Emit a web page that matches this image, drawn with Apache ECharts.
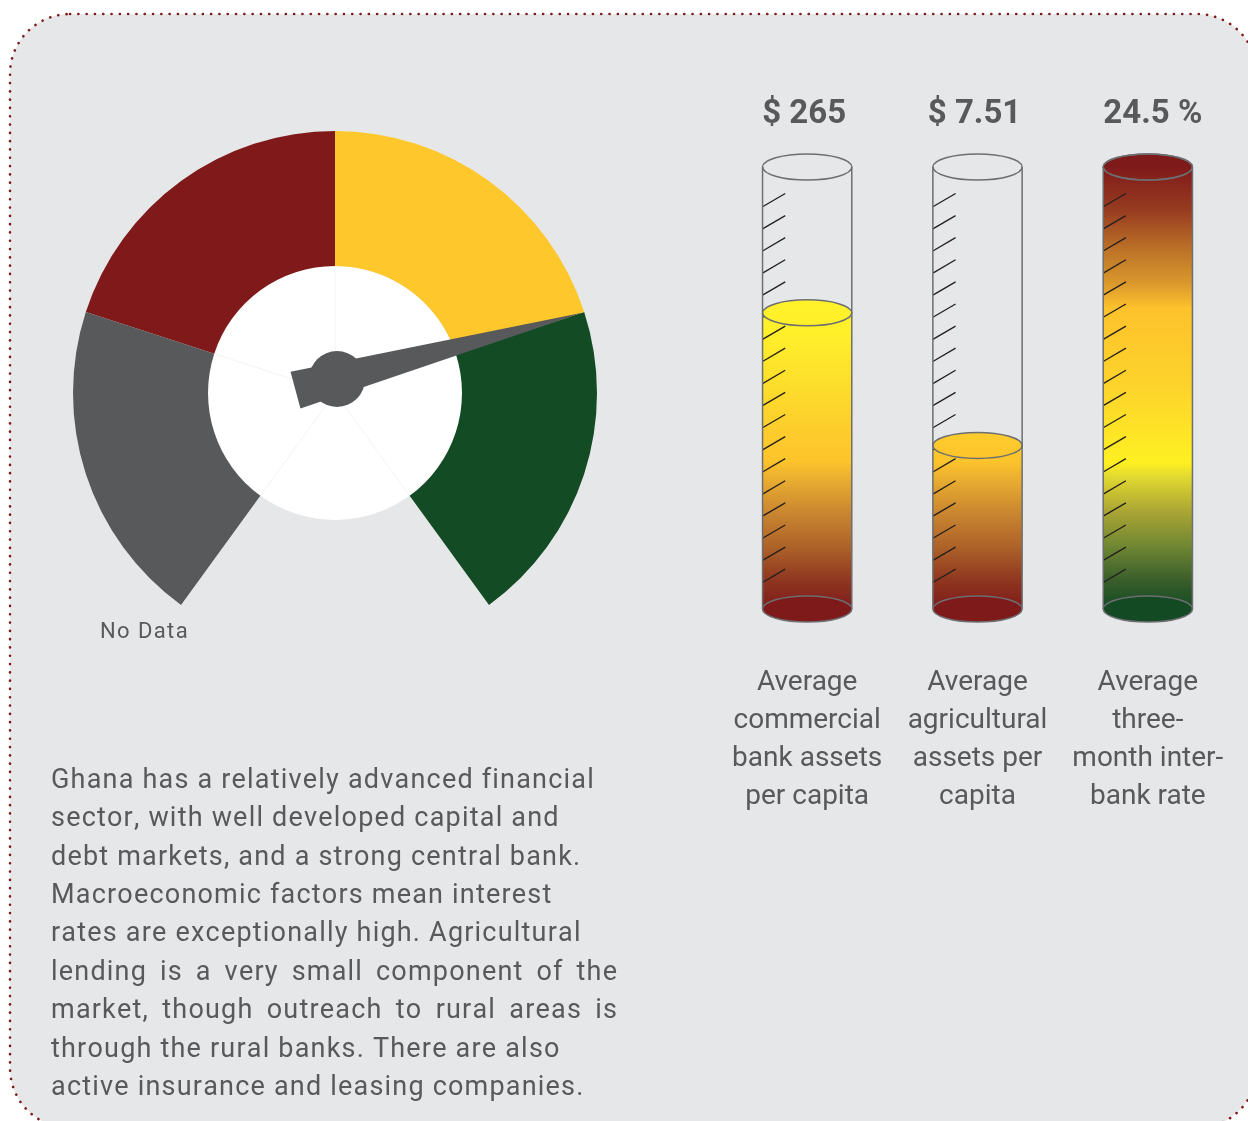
<!DOCTYPE html>
<html>
<head>
<meta charset="utf-8">
<title>Ghana - financial sector</title>
<script src="https://cdn.jsdelivr.net/npm/echarts@6/dist/echarts.min.js"></script>
<style>
  html, body { margin: 0; padding: 0; background: #fff; }
  #chart { width: 1248px; height: 1121px; }
</style>
</head>
<body>
<div id="chart"></div>
<script>
// dial: four bands, the needle sits just past the yellow/green border
var gaugeBands = ['No Data', 'Low', 'Medium', 'High'];
var gaugeColors = ['#58595b', '#801a1a', '#fec82c', '#134b24'];
var needleValue = 3.04;

// cylinders
var indicators = [
  'Average\ncommercial\nbank assets\nper capita',
  'Average\nagricultural\nassets per\ncapita',
  'Average\nthree-\nmonth inter-\nbank rate'
];
var valueLabels = ['$ 265', '$ 7.51', '24.5 %'];
var fillLevels = [67, 37, 100];
var tickLevels = [6, 11, 16, 21, 26, 31, 36, 41, 46, 51, 56, 61, 66, 71, 76, 81, 86, 91];

var paragraph = [
  'Ghana has a relatively advanced financial',
  'sector, with well developed capital and',
  'debt markets, and a strong central bank.',
  'Macroeconomic factors mean interest',
  'rates are exceptionally high. Agricultural',
  'lending is a very small component of the',
  'market, though outreach to rural areas is',
  'through the rural banks. There are also',
  'active insurance and leasing companies.'
];
var justifiedLines = [5, 6];

var GRAY = '#58595b';
var FONT = 'Roboto, "Noto Sans", sans-serif';
var dialCenter = [335, 393];
var hubCenter = [337, 379];

var assetStops = [[0, '#fff52a'], [0.37, '#fff02a'], [0.48, '#fde02b'], [0.6, '#fdcc2c'],
  [0.665, '#fdc42c'], [0.71, '#e8ac30'], [0.785, '#c98530'], [0.86, '#ad6228'],
  [0.935, '#8f3620'], [1, '#7f1a1a']];
var rateStops = [[0, '#7f1a1a'], [0.1, '#983d20'], [0.19, '#bd7428'], [0.26, '#d8962c'],
  [0.32, '#fdc22c'], [0.5, '#fdd42b'], [0.67, '#fef022'], [0.7, '#e2da30'],
  [0.78, '#aaa534'], [0.86, '#6e8632'], [0.935, '#3a5e2b'], [1, '#134a24']];
var bottomColors = ['#7f1a1a', '#7f1a1a', '#134a24'];

function renderCylinder(params, api) {
  var i = api.value(0);
  var level = api.value(1);
  var base = api.coord([i, 0]);
  var cx = base[0], yB = base[1];
  var yT = api.coord([i, 100])[1];
  var yL = api.coord([i, level])[1];
  var rx = api.size([1, 0])[0] * 0.262;
  var ry = 13;
  var stops = i === 2 ? rateStops : assetStops;
  var grad = new echarts.graphic.LinearGradient(0, yT, 0, yB, stops.map(function (s) {
    return { offset: s[0], color: s[1] };
  }), true);
  var edge = { stroke: '#6d6e71', lineWidth: 1.5 };
  var kids = [];
  kids.push({ type: 'rect', shape: { x: cx - rx, y: yL, width: rx * 2, height: yB - yL }, style: { fill: grad } });
  tickLevels.forEach(function (t) {
    var y = api.coord([i, t])[1];
    kids.push({ type: 'line', shape: { x1: cx - rx, y1: y, x2: cx - rx + 22.7, y2: y - 13.3 },
      style: { stroke: '#231f20', lineWidth: 1.3 } });
  });
  kids.push({ type: 'ellipse', shape: { cx: cx, cy: yB, rx: rx, ry: ry },
    style: { fill: bottomColors[i], stroke: edge.stroke, lineWidth: edge.lineWidth } });
  kids.push({ type: 'ellipse', shape: { cx: cx, cy: yL, rx: rx, ry: ry },
    style: { fill: grad, stroke: edge.stroke, lineWidth: edge.lineWidth } });
  kids.push({ type: 'line', shape: { x1: cx - rx, y1: yT, x2: cx - rx, y2: yB }, style: edge });
  kids.push({ type: 'line', shape: { x1: cx + rx, y1: yT, x2: cx + rx, y2: yB }, style: edge });
  kids.push({ type: 'ellipse', shape: { cx: cx, cy: yT, rx: rx, ry: ry },
    style: { fill: null, stroke: edge.stroke, lineWidth: edge.lineWidth } });
  kids.push({ type: 'text', style: { text: valueLabels[i], x: cx + (i === 2 ? 5 : -3), y: yT - 52, align: 'center',
    verticalAlign: 'middle', fontSize: 33, fontWeight: 'bold', fontFamily: FONT, fill: GRAY } });
  return { type: 'group', children: kids };
}

// the original type is tracked out, so place text one glyph at a time
var ctx = document.createElement('canvas').getContext('2d');
function charW(c, font) { ctx.font = font; return ctx.measureText(c).width; }
function wordW(w, font, sp) {
  var s = 0;
  for (var k = 0; k < w.length; k++) s += charW(w[k], font) + sp;
  return s - sp;
}
function tracked(str, x, y, font, sp, out) {
  for (var k = 0; k < str.length; k++) {
    var c = str[k];
    if (c !== ' ') {
      out.push({ type: 'text', x: x, y: y, style: { text: c, font: font, fill: GRAY, verticalAlign: 'middle' } });
    }
    x += charW(c, font) + sp;
  }
}

var textFont = '27px Roboto';
var track = 1.2;
var textEls = [];
paragraph.forEach(function (line, k) {
  var y = 781 + k * 38.4;
  if (justifiedLines.indexOf(k) >= 0) {
    var words = line.split(' ');
    var total = 0;
    words.forEach(function (w) { total += wordW(w, textFont, track); });
    var gap = (566 - total) / (words.length - 1);
    var x = 51;
    words.forEach(function (w) {
      tracked(w, x, y, textFont, track, textEls);
      x += wordW(w, textFont, track) + gap;
    });
  } else {
    tracked(line, 51, y, textFont, track, textEls);
  }
});
tracked(gaugeBands[0], 100, 632, '22px Roboto', 1.4, textEls);

var bandStops = gaugeColors.map(function (c, i) { return [(i + 1) / gaugeColors.length, c]; });

var chart = echarts.init(document.getElementById('chart'));
chart.setOption({
  animation: false,
  backgroundColor: '#fff',
  graphic: [
    { type: 'rect', shape: { x: 10, y: 14, width: 1247, height: 1114, r: 60 },
      style: { fill: '#e6e7e8', stroke: '#7f1a1a', lineWidth: 2.6, lineDash: [0.1, 8.2], lineCap: 'round' } },
    { type: 'circle', shape: { cx: dialCenter[0], cy: dialCenter[1], r: 127 }, style: { fill: '#fff' } }
  ].concat(textEls),
  grid: { left: 722, top: 167, width: 511, height: 442 },
  xAxis: {
    type: 'category', data: indicators,
    axisLine: { show: false }, axisTick: { show: false },
    axisLabel: { interval: 0, margin: 55, fontSize: 28, lineHeight: 38, color: GRAY, fontFamily: FONT }
  },
  yAxis: { type: 'value', min: 0, max: 100, show: false },
  series: [
    {
      type: 'gauge', center: dialCenter, radius: 262, startAngle: 234, endAngle: -54,
      min: 0, max: gaugeColors.length, splitNumber: gaugeColors.length,
      axisLine: { lineStyle: { width: 135, color: bandStops } },
      splitLine: { show: false }, axisTick: { show: false }, axisLabel: { show: false },
      pointer: { show: false }, anchor: { show: false }, title: { show: false }, detail: { show: false },
      silent: true, data: [{ value: 0 }]
    },
    {
      type: 'gauge', center: dialCenter, radius: 127, startAngle: 234, endAngle: -54,
      min: 0, max: gaugeColors.length, splitNumber: gaugeColors.length,
      axisLine: { show: false, lineStyle: { width: 0 } },
      splitLine: { show: true, distance: 0, length: 112, lineStyle: { color: 'rgba(0,0,0,0.05)', width: 1 } },
      axisTick: { show: false }, axisLabel: { show: false },
      pointer: { show: false }, anchor: { show: false }, title: { show: false }, detail: { show: false },
      silent: true, data: [{ value: 0 }]
    },
    {
      type: 'gauge', center: hubCenter, radius: 254, startAngle: 234, endAngle: -54,
      min: 0, max: gaugeColors.length,
      axisLine: { show: false, lineStyle: { width: 0 } },
      splitLine: { show: false }, axisTick: { show: false }, axisLabel: { show: false },
      pointer: { show: true, icon: 'path://M5 0 L10 100 L0 100 Z', length: 297, width: 38,
        offsetCenter: [0, 43], itemStyle: { color: GRAY } },
      anchor: { show: true, showAbove: true, size: 56, itemStyle: { color: GRAY, borderWidth: 0 } },
      title: { show: false }, detail: { show: false },
      silent: true, data: [{ value: needleValue }]
    },
    {
      type: 'custom', renderItem: renderCylinder, silent: true,
      encode: { x: 0, y: 1 },
      data: fillLevels.map(function (v, i) { return [i, v]; })
    }
  ]
});
</script>
</body>
</html>
